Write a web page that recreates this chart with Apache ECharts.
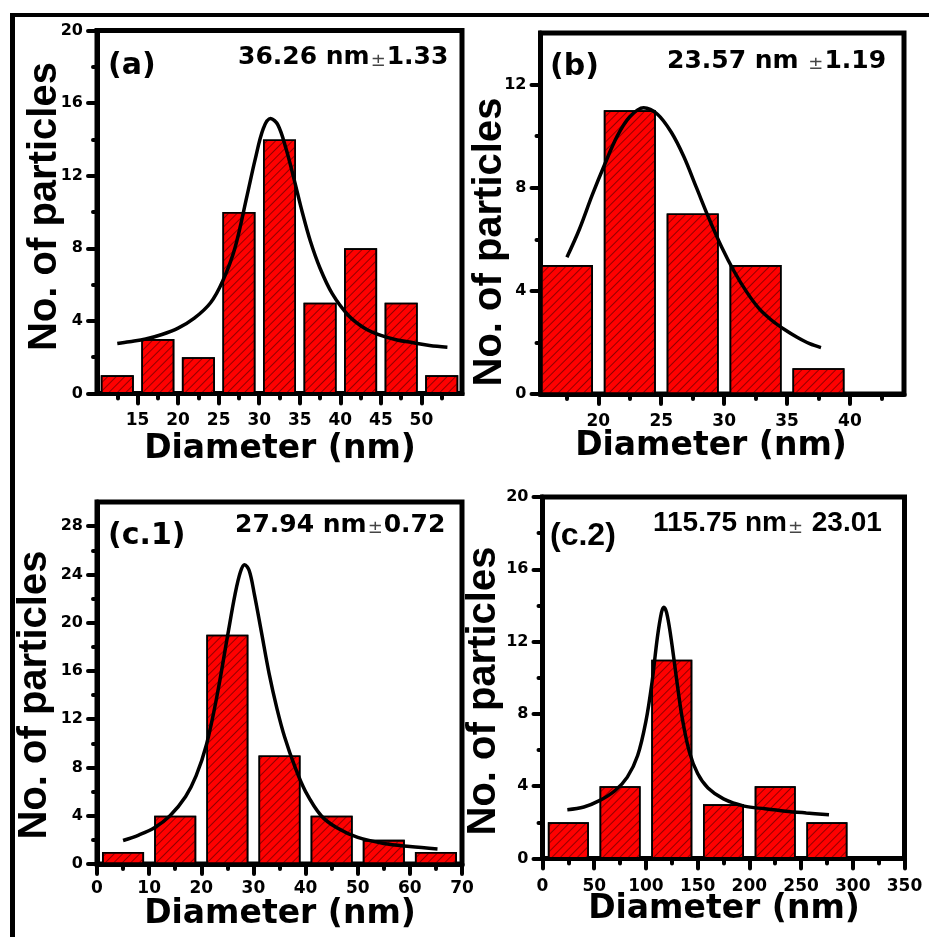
<!DOCTYPE html>
<html><head><meta charset="utf-8">
<script src="https://cdn.jsdelivr.net/npm/echarts@6/dist/echarts.min.js"></script>
<style>html,body{margin:0;padding:0;background:#fff}#c{width:929px;height:937px}</style>
</head><body><div id="c"></div>
<script>
// ---------- Panel (a) ----------
const aBinCenters = [12.5, 17.5, 22.5, 27.5, 32.5, 37.5, 42.5, 47.5, 52.5];
const aCounts = [1, 3, 2, 10, 14, 5, 8, 5, 1];
const aFitX = [12.5, 14, 16, 18, 20, 22, 24, 25.5, 27, 28.5, 29.5, 30.5, 31.4, 32.3, 33.3, 34.3, 35.3, 36.3, 37.5, 39, 41, 43, 45, 47, 49, 51, 53.2];
const aFitY = [2.75, 2.85, 3.0, 3.25, 3.6, 4.15, 5.0, 6.2, 8.0, 10.9, 12.9, 14.6, 15.15, 14.8, 13.5, 11.8, 10.0, 8.4, 6.9, 5.5, 4.3, 3.6, 3.2, 2.95, 2.8, 2.65, 2.55];
const aXMajor = [15, 20, 25, 30, 35, 40, 45, 50];
const aXMinor = [12.5, 17.5, 22.5, 27.5, 32.5, 37.5, 42.5, 47.5, 52.5];
const aYMajor = [0, 4, 8, 12, 16, 20];
const aYMinor = [2, 6, 10, 14, 18];

// ---------- Panel (b) ----------
const bBinCenters = [17.5, 22.5, 27.5, 32.5, 37.5];
const bCounts = [5, 11, 7, 5, 1];
const bFitX = [17.5, 18.5, 19.5, 20.5, 21.5, 22.5, 23.6, 24.7, 25.8, 26.8, 27.8, 28.8, 29.8, 30.8, 31.8, 32.8, 33.8, 34.8, 35.8, 36.8, 37.7];
const bFitY = [5.3, 6.4, 7.7, 8.9, 10.0, 10.75, 11.1, 10.85, 10.15, 9.2, 8.0, 6.8, 5.7, 4.75, 3.95, 3.3, 2.85, 2.5, 2.2, 1.95, 1.8];
const bXMajor = [20, 25, 30, 35, 40];
const bXMinor = [17.5, 22.5, 27.5, 32.5, 37.5, 42.5];
const bYMajor = [0, 4, 8, 12];
const bYMinor = [2, 6, 10];

// ---------- Panel (c.1) ----------
const c1BinCenters = [5, 15, 25, 35, 45, 55, 65];
const c1Counts = [1, 4, 19, 9, 4, 2, 1];
const c1FitX = [5, 8, 11, 14, 17, 19, 21, 23, 25, 26.5, 27.5, 28.3, 29.2, 30.2, 31.5, 33, 34.5, 36, 38, 40, 43, 46, 50, 55, 60, 65.3];
const c1FitY = [1.95, 2.4, 3.0, 4.0, 5.6, 7.3, 9.9, 13.9, 18.8, 22.4, 24.2, 24.8, 24.3, 22.3, 19.3, 15.8, 12.9, 10.5, 8.0, 6.0, 4.0, 3.0, 2.2, 1.7, 1.45, 1.25];
const c1XMajor = [0, 10, 20, 30, 40, 50, 60, 70];
const c1XMinor = [5, 15, 25, 35, 45, 55, 65];
const c1YMajor = [0, 4, 8, 12, 16, 20, 24, 28];
const c1YMinor = [2, 6, 10, 14, 18, 22, 26];

// ---------- Panel (c.2) ----------
const c2BinCenters = [25, 75, 125, 175, 225, 275];
const c2Counts = [2, 4, 11, 3, 4, 2];
const c2FitX = [24, 40, 55, 70, 82, 92, 100, 106, 111, 115, 117.3, 120, 124, 129, 135, 142, 150, 160, 175, 195, 215, 235, 255, 277];
const c2FitY = [2.7, 2.85, 3.2, 3.75, 4.5, 5.7, 7.6, 9.8, 12.2, 13.6, 13.9, 13.6, 12.3, 10.2, 7.8, 5.9, 4.7, 3.9, 3.3, 2.9, 2.75, 2.62, 2.52, 2.42];
const c2XMajor = [0, 50, 100, 150, 200, 250, 300, 350];
const c2XMinor = [25, 75, 125, 175, 225, 275, 325];
const c2YMajor = [0, 4, 8, 12, 16, 20];
const c2YMinor = [2, 6, 10, 14, 18];

// ---------- Texts ----------
const panelTags = ['(a)', '(b)', '(c.1)', '(c.2)'];
const meanText = [['36.26 nm', '±', '1.33'], ['23.57 nm ', '±', '1.19'], ['27.94 nm', '±', '0.72'], ['115.75 nm', '±', ' 23.01']];
const yTitle = 'No. of particles';
const xTitle = 'Diameter (nm)';

// ---------- Layout (style only) ----------
const panels = [
  {grid: {left: 97, top: 30.5, width: 365, height: 363}, xmin: 10, xmax: 55, ymax: 20, bins: aBinCenters, counts: aCounts, fx: aFitX, fy: aFitY, xM: aXMajor, xm: aXMinor, yM: aYMajor, ym: aYMinor, barW: 33, xMargin: 19,
   tag: [108, 66, 'bold 30px "DejaVu Sans"'], mean: [238, 57.5, 'DejaVu Sans', 25], yt: [45, 206.5], xt: [280, 449]},
  {grid: {left: 540.5, top: 33, width: 363.5, height: 361}, xmin: 15.4, xmax: 44.3, ymax: 14, bins: bBinCenters, counts: bCounts, fx: bFitX, fy: bFitY, xM: bXMajor, xm: bXMinor, yM: bYMajor, ym: bYMinor, barW: 52, xMargin: 19,
   tag: [550, 67, 'bold 30px "DejaVu Sans"'], mean: [667, 61, 'DejaVu Sans', 25], yt: [490, 242], xt: [711, 446]},
  {grid: {left: 97, top: 502, width: 365, height: 362}, xmin: 0, xmax: 70, ymax: 30, bins: c1BinCenters, counts: c1Counts, fx: c1FitX, fy: c1FitY, xM: c1XMajor, xm: c1XMinor, yM: c1YMajor, ym: c1YMinor, barW: 42, xMargin: 16,
   tag: [108, 536, 'bold 30px "DejaVu Sans"'], mean: [235, 525, 'DejaVu Sans', 25], yt: [35, 695], xt: [280, 914]},
  {grid: {left: 542.5, top: 497, width: 362, height: 361.5}, xmin: 0, xmax: 350, ymax: 20, bins: c2BinCenters, counts: c2Counts, fx: c2FitX, fy: c2FitY, xM: c2XMajor, xm: c2XMinor, yM: c2YMajor, ym: c2YMinor, barW: 41, xMargin: 20,
   tag: [550, 536, 'bold 32px "Liberation Sans"'], mean: [653, 523, 'Liberation Sans', 28], yt: [484, 691], xt: [724, 909]}
];

const tickStyle = {color: '#000', width: 4, cap: 'round'};
const grids = [], xAxes = [], yAxes = [], series = [], graphic = [];

graphic.push({type: 'rect', shape: {x: 10, y: 13, width: 5, height: 924}, style: {fill: '#000'}});
graphic.push({type: 'rect', shape: {x: 10, y: 13, width: 919, height: 4}, style: {fill: '#000'}});

panels.forEach((p, i) => {
  grids.push(Object.assign({show: true, borderColor: '#000', borderWidth: 5, backgroundColor: 'transparent', containLabel: false}, p.grid));
  xAxes.push({type: 'value', gridIndex: i, min: p.xmin, max: p.xmax, position: 'bottom', offset: 0,
    axisLine: {show: true, onZero: false, lineStyle: {color: '#000', width: 5}},
    axisTick: {show: true, customValues: p.xM, length: 10, lineStyle: tickStyle},
    axisLabel: {show: true, customValues: p.xM, margin: p.xMargin, color: '#000', fontFamily: 'DejaVu Sans', fontWeight: 'bold', fontSize: 17},
    splitLine: {show: false}});
  xAxes.push({type: 'value', gridIndex: i, min: p.xmin, max: p.xmax, position: 'bottom', offset: 0,
    axisLine: {show: false, onZero: false},
    axisTick: {show: true, customValues: p.xm, length: 5, lineStyle: tickStyle},
    axisLabel: {show: false}, splitLine: {show: false}});
  yAxes.push({type: 'value', gridIndex: i, min: 0, max: p.ymax, position: 'left', offset: 0,
    axisLine: {show: true, onZero: false, lineStyle: {color: '#000', width: 5}},
    axisTick: {show: true, customValues: p.yM, length: 9, lineStyle: tickStyle},
    axisLabel: {show: true, customValues: p.yM, margin: 14, color: '#000', fontFamily: 'DejaVu Sans', fontWeight: 'bold', fontSize: 16},
    splitLine: {show: false}});
  yAxes.push({type: 'value', gridIndex: i, min: 0, max: p.ymax, position: 'left', offset: 0,
    axisLine: {show: false, onZero: false},
    axisTick: {show: true, customValues: p.ym, length: 4, lineStyle: tickStyle},
    axisLabel: {show: false}, splitLine: {show: false}});
  series.push({type: 'bar', xAxisIndex: 2 * i, yAxisIndex: 2 * i, barWidth: p.barW, z: 2,
    data: p.bins.map((x, k) => [x, p.counts[k]]),
    itemStyle: {color: '#ff0000', borderColor: '#000', borderWidth: 1.6,
      decal: {symbol: 'rect', symbolSize: 1, color: 'rgba(70,0,0,0.6)', dashArrayX: [1, 0], dashArrayY: [1, 5], rotation: -Math.PI / 4}}});
  series.push({type: 'line', xAxisIndex: 2 * i, yAxisIndex: 2 * i, smooth: 0.35, symbol: 'none', z: 5,
    data: p.fx.map((x, k) => [x, p.fy[k]]),
    lineStyle: {color: '#000', width: 3.5}});

  graphic.push({type: 'text', x: p.tag[0], y: p.tag[1], z: 10,
    style: {text: panelTags[i], fill: '#000', font: p.tag[2], textAlign: 'left', textVerticalAlign: 'middle', verticalAlign: 'middle'}});
  const m = meanText[i];
  graphic.push({type: 'text', x: p.mean[0], y: p.mean[1], z: 10,
    style: {text: '{n|' + m[0] + '}{pm|' + m[1] + '}{n|' + m[2] + '}', textAlign: 'left', textVerticalAlign: 'middle', verticalAlign: 'middle',
      rich: {n: {fontFamily: p.mean[2], fontWeight: 'bold', fontSize: p.mean[3], fill: '#000', color: '#000'},
             pm: {fontFamily: 'DejaVu Sans', fontWeight: 'normal', fontSize: 18, fill: '#444', color: '#444', verticalAlign: 'bottom', padding: [0, 1, 0, 1]}}}});
  graphic.push({type: 'text', x: p.yt[0], y: p.yt[1], rotation: Math.PI / 2, z: 10,
    style: {text: yTitle, fill: '#000', font: 'bold 40px "Liberation Sans"', textAlign: 'center', textVerticalAlign: 'middle', verticalAlign: 'middle'}});
  graphic.push({type: 'text', x: p.xt[0], y: p.xt[1], z: 10,
    style: {text: xTitle, fill: '#000', font: 'bold 33px "DejaVu Sans"', textAlign: 'center', textVerticalAlign: 'middle', verticalAlign: 'middle'}});
});

const chart = echarts.init(document.getElementById('c'), null, {renderer: 'canvas'});
chart.setOption({
  animation: false,
  backgroundColor: '#fff',
  aria: {enabled: true, decal: {show: true}},
  grid: grids, xAxis: xAxes, yAxis: yAxes, series: series, graphic: graphic
});
</script></body></html>
